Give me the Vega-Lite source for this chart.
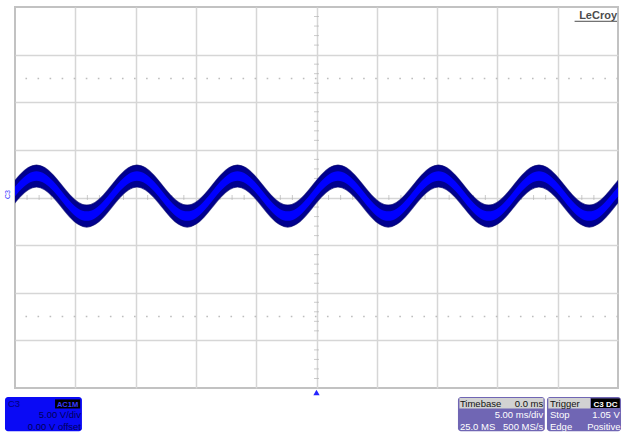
{
  "$schema": "https://vega.github.io/schema/vega-lite/v6.json",
  "width": 603,
  "height": 381,
  "autosize": "none",
  "padding": {"left": 15, "top": 7, "right": 4, "bottom": 45},
  "background": "white",
  "config": {
    "view": {"stroke": "#c2c2c2", "strokeWidth": 2},
    "axis": {"gridColor": "#d6d6d6", "gridWidth": 1.5, "gridOpacity": 1},
    "font": "Liberation Sans",
    "text": {"fontSize": 9.5, "baseline": "alphabetic"}
  },
  "datasets": {
    "wave": [
      {"t": -25.303, "lo": -1.00, "hi": 1.30, "ilo": -0.35, "ihi": 0.65},
      {"t": -24.609, "lo": 0.05, "hi": 2.35, "ilo": 0.70, "ihi": 1.70},
      {"t": -23.914, "lo": 0.82, "hi": 3.12, "ilo": 1.47, "ihi": 2.47},
      {"t": -23.22, "lo": 1.10, "hi": 3.40, "ilo": 1.75, "ihi": 2.75},
      {"t": -22.526, "lo": 0.82, "hi": 3.12, "ilo": 1.47, "ihi": 2.47},
      {"t": -21.831, "lo": 0.05, "hi": 2.35, "ilo": 0.70, "ihi": 1.70},
      {"t": -21.137, "lo": -1.00, "hi": 1.30, "ilo": -0.35, "ihi": 0.65},
      {"t": -20.442, "lo": -2.05, "hi": 0.25, "ilo": -1.40, "ihi": -0.40},
      {"t": -19.748, "lo": -2.82, "hi": -0.52, "ilo": -2.17, "ihi": -1.17},
      {"t": -19.053, "lo": -3.10, "hi": -0.80, "ilo": -2.45, "ihi": -1.45},
      {"t": -18.359, "lo": -2.82, "hi": -0.52, "ilo": -2.17, "ihi": -1.17},
      {"t": -17.664, "lo": -2.05, "hi": 0.25, "ilo": -1.40, "ihi": -0.40},
      {"t": -16.97, "lo": -1.00, "hi": 1.30, "ilo": -0.35, "ihi": 0.65},
      {"t": -16.276, "lo": 0.05, "hi": 2.35, "ilo": 0.70, "ihi": 1.70},
      {"t": -15.581, "lo": 0.82, "hi": 3.12, "ilo": 1.47, "ihi": 2.47},
      {"t": -14.887, "lo": 1.10, "hi": 3.40, "ilo": 1.75, "ihi": 2.75},
      {"t": -14.192, "lo": 0.82, "hi": 3.12, "ilo": 1.47, "ihi": 2.47},
      {"t": -13.498, "lo": 0.05, "hi": 2.35, "ilo": 0.70, "ihi": 1.70},
      {"t": -12.803, "lo": -1.00, "hi": 1.30, "ilo": -0.35, "ihi": 0.65},
      {"t": -12.109, "lo": -2.05, "hi": 0.25, "ilo": -1.40, "ihi": -0.40},
      {"t": -11.414, "lo": -2.82, "hi": -0.52, "ilo": -2.17, "ihi": -1.17},
      {"t": -10.72, "lo": -3.10, "hi": -0.80, "ilo": -2.45, "ihi": -1.45},
      {"t": -10.026, "lo": -2.82, "hi": -0.52, "ilo": -2.17, "ihi": -1.17},
      {"t": -9.331, "lo": -2.05, "hi": 0.25, "ilo": -1.40, "ihi": -0.40},
      {"t": -8.637, "lo": -1.00, "hi": 1.30, "ilo": -0.35, "ihi": 0.65},
      {"t": -7.942, "lo": 0.05, "hi": 2.35, "ilo": 0.70, "ihi": 1.70},
      {"t": -7.248, "lo": 0.82, "hi": 3.12, "ilo": 1.47, "ihi": 2.47},
      {"t": -6.553, "lo": 1.10, "hi": 3.40, "ilo": 1.75, "ihi": 2.75},
      {"t": -5.859, "lo": 0.82, "hi": 3.12, "ilo": 1.47, "ihi": 2.47},
      {"t": -5.164, "lo": 0.05, "hi": 2.35, "ilo": 0.70, "ihi": 1.70},
      {"t": -4.47, "lo": -1.00, "hi": 1.30, "ilo": -0.35, "ihi": 0.65},
      {"t": -3.776, "lo": -2.05, "hi": 0.25, "ilo": -1.40, "ihi": -0.40},
      {"t": -3.081, "lo": -2.82, "hi": -0.52, "ilo": -2.17, "ihi": -1.17},
      {"t": -2.387, "lo": -3.10, "hi": -0.80, "ilo": -2.45, "ihi": -1.45},
      {"t": -1.692, "lo": -2.82, "hi": -0.52, "ilo": -2.17, "ihi": -1.17},
      {"t": -0.998, "lo": -2.05, "hi": 0.25, "ilo": -1.40, "ihi": -0.40},
      {"t": -0.303, "lo": -1.00, "hi": 1.30, "ilo": -0.35, "ihi": 0.65},
      {"t": 0.391, "lo": 0.05, "hi": 2.35, "ilo": 0.70, "ihi": 1.70},
      {"t": 1.086, "lo": 0.82, "hi": 3.12, "ilo": 1.47, "ihi": 2.47},
      {"t": 1.78, "lo": 1.10, "hi": 3.40, "ilo": 1.75, "ihi": 2.75},
      {"t": 2.474, "lo": 0.82, "hi": 3.12, "ilo": 1.47, "ihi": 2.47},
      {"t": 3.169, "lo": 0.05, "hi": 2.35, "ilo": 0.70, "ihi": 1.70},
      {"t": 3.863, "lo": -1.00, "hi": 1.30, "ilo": -0.35, "ihi": 0.65},
      {"t": 4.558, "lo": -2.05, "hi": 0.25, "ilo": -1.40, "ihi": -0.40},
      {"t": 5.252, "lo": -2.82, "hi": -0.52, "ilo": -2.17, "ihi": -1.17},
      {"t": 5.947, "lo": -3.10, "hi": -0.80, "ilo": -2.45, "ihi": -1.45},
      {"t": 6.641, "lo": -2.82, "hi": -0.52, "ilo": -2.17, "ihi": -1.17},
      {"t": 7.336, "lo": -2.05, "hi": 0.25, "ilo": -1.40, "ihi": -0.40},
      {"t": 8.03, "lo": -1.00, "hi": 1.30, "ilo": -0.35, "ihi": 0.65},
      {"t": 8.724, "lo": 0.05, "hi": 2.35, "ilo": 0.70, "ihi": 1.70},
      {"t": 9.419, "lo": 0.82, "hi": 3.12, "ilo": 1.47, "ihi": 2.47},
      {"t": 10.113, "lo": 1.10, "hi": 3.40, "ilo": 1.75, "ihi": 2.75},
      {"t": 10.808, "lo": 0.82, "hi": 3.12, "ilo": 1.47, "ihi": 2.47},
      {"t": 11.502, "lo": 0.05, "hi": 2.35, "ilo": 0.70, "ihi": 1.70},
      {"t": 12.197, "lo": -1.00, "hi": 1.30, "ilo": -0.35, "ihi": 0.65},
      {"t": 12.891, "lo": -2.05, "hi": 0.25, "ilo": -1.40, "ihi": -0.40},
      {"t": 13.586, "lo": -2.82, "hi": -0.52, "ilo": -2.17, "ihi": -1.17},
      {"t": 14.28, "lo": -3.10, "hi": -0.80, "ilo": -2.45, "ihi": -1.45},
      {"t": 14.974, "lo": -2.82, "hi": -0.52, "ilo": -2.17, "ihi": -1.17},
      {"t": 15.669, "lo": -2.05, "hi": 0.25, "ilo": -1.40, "ihi": -0.40},
      {"t": 16.363, "lo": -1.00, "hi": 1.30, "ilo": -0.35, "ihi": 0.65},
      {"t": 17.058, "lo": 0.05, "hi": 2.35, "ilo": 0.70, "ihi": 1.70},
      {"t": 17.752, "lo": 0.82, "hi": 3.12, "ilo": 1.47, "ihi": 2.47},
      {"t": 18.447, "lo": 1.10, "hi": 3.40, "ilo": 1.75, "ihi": 2.75},
      {"t": 19.141, "lo": 0.82, "hi": 3.12, "ilo": 1.47, "ihi": 2.47},
      {"t": 19.836, "lo": 0.05, "hi": 2.35, "ilo": 0.70, "ihi": 1.70},
      {"t": 20.53, "lo": -1.00, "hi": 1.30, "ilo": -0.35, "ihi": 0.65},
      {"t": 21.224, "lo": -2.05, "hi": 0.25, "ilo": -1.40, "ihi": -0.40},
      {"t": 21.919, "lo": -2.82, "hi": -0.52, "ilo": -2.17, "ihi": -1.17},
      {"t": 22.613, "lo": -3.10, "hi": -0.80, "ilo": -2.45, "ihi": -1.45},
      {"t": 23.308, "lo": -2.82, "hi": -0.52, "ilo": -2.17, "ihi": -1.17},
      {"t": 24.002, "lo": -2.05, "hi": 0.25, "ilo": -1.40, "ihi": -0.40},
      {"t": 24.697, "lo": -1.00, "hi": 1.30, "ilo": -0.35, "ihi": 0.65},
      {"t": 25.391, "lo": 0.05, "hi": 2.35, "ilo": 0.70, "ihi": 1.70}
    ],
    "minorx": [
      {"m": -24}, {"m": -23}, {"m": -22}, {"m": -21}, {"m": -19}, {"m": -18}, {"m": -17}, {"m": -16},
      {"m": -14}, {"m": -13}, {"m": -12}, {"m": -11}, {"m": -9}, {"m": -8}, {"m": -7}, {"m": -6},
      {"m": -4}, {"m": -3}, {"m": -2}, {"m": -1}, {"m": 1}, {"m": 2}, {"m": 3}, {"m": 4},
      {"m": 6}, {"m": 7}, {"m": 8}, {"m": 9}, {"m": 11}, {"m": 12}, {"m": 13}, {"m": 14},
      {"m": 16}, {"m": 17}, {"m": 18}, {"m": 19}, {"m": 21}, {"m": 22}, {"m": 23}, {"m": 24}
    ],
    "minory": [
      {"m": -19}, {"m": -18}, {"m": -17}, {"m": -16}, {"m": -14}, {"m": -13}, {"m": -12}, {"m": -11},
      {"m": -9}, {"m": -8}, {"m": -7}, {"m": -6}, {"m": -4}, {"m": -3}, {"m": -2}, {"m": -1},
      {"m": 1}, {"m": 2}, {"m": 3}, {"m": 4}, {"m": 6}, {"m": 7}, {"m": 8}, {"m": 9},
      {"m": 11}, {"m": 12}, {"m": 13}, {"m": 14}, {"m": 16}, {"m": 17}, {"m": 18}, {"m": 19}
    ],
    "levels": [{"lvl": 12.5}, {"lvl": -12.5}]
  },
  "layer": [
    {
      "data": {"name": "levels"},
      "mark": {"type": "rule", "color": "#bdbdbd", "strokeWidth": 1.6, "strokeDash": [1.6, 10.46]},
      "encoding": {
        "y": {
          "field": "lvl", "type": "quantitative",
          "scale": {"domain": [-20, 20], "nice": false, "zero": false},
          "axis": {"values": [-15, -10, -5, 0, 5, 10, 15], "grid": true, "labels": false, "ticks": false, "domain": false, "title": null}
        }
      }
    },
    {
      "data": {"name": "minorx"},
      "mark": {"type": "tick", "orient": "vertical", "size": 5, "thickness": 1, "color": "#b5b5b5"},
      "encoding": {
        "x": {
          "field": "m", "type": "quantitative",
          "scale": {"domain": [-25, 25], "nice": false, "zero": false},
          "axis": {"values": [-20, -15, -10, -5, 0, 5, 10, 15, 20], "grid": true, "labels": false, "ticks": false, "domain": false, "title": null}
        },
        "y": {"datum": 0}
      }
    },
    {
      "data": {"name": "minory"},
      "mark": {"type": "tick", "orient": "horizontal", "size": 5, "thickness": 1, "color": "#b5b5b5"},
      "encoding": {
        "y": {"field": "m", "type": "quantitative"},
        "x": {"datum": 0}
      }
    },
    {
      "data": {"name": "wave"},
      "mark": {"type": "area", "interpolate": "natural", "clip": true, "color": "#00008e", "stroke": "#000070", "strokeWidth": 1.2, "strokeOpacity": 0.7},
      "encoding": {
        "x": {"field": "t", "type": "quantitative"},
        "y": {"field": "lo", "type": "quantitative"},
        "y2": {"field": "hi"}
      }
    },
    {
      "data": {"name": "wave"},
      "mark": {"type": "area", "interpolate": "natural", "clip": true, "color": "#0000ff"},
      "encoding": {
        "x": {"field": "t", "type": "quantitative"},
        "y": {"field": "ilo", "type": "quantitative"},
        "y2": {"field": "ihi"}
      }
    },
    {
      "data": {"values": [{"label": "LeCroy"}]},
      "mark": {"type": "text", "align": "right", "fontSize": 11, "fontWeight": "bold", "color": "#4d4d4d"},
      "encoding": {"x": {"datum": 24.92}, "y": {"datum": 18.74}, "text": {"field": "label"}}
    },
    {
      "data": {"values": [{}]},
      "mark": {"type": "rule", "color": "#4d4d4d", "strokeWidth": 1},
      "encoding": {"x": {"datum": 21.4}, "x2": {"datum": 24.92}, "y": {"datum": 18.5}}
    },
    {
      "data": {"values": [{"label": "C3"}]},
      "mark": {"type": "text", "align": "center", "baseline": "middle", "fontSize": 7, "angle": 270, "color": "#3030ff"},
      "encoding": {"x": {"datum": -25.62}, "y": {"datum": 0.3}, "text": {"field": "label"}}
    },
    {
      "data": {"values": [{}]},
      "mark": {"type": "point", "shape": "triangle-up", "filled": true, "size": 40, "color": "#2525ff", "opacity": 1},
      "encoding": {"x": {"datum": 0}, "y": {"datum": -20.47}}
    },
    {
      "data": {"values": [{}]},
      "mark": {"type": "rect", "color": "#0a0af5", "cornerRadius": 3},
      "encoding": {"x": {"datum": -25.83}, "x2": {"datum": -19.45}, "y": {"datum": -20.95}, "y2": {"datum": -24.55}}
    },
    {
      "data": {"values": [{}]},
      "mark": {"type": "rect", "color": "#000000"},
      "encoding": {"x": {"datum": -21.68}, "x2": {"datum": -19.6}, "y": {"datum": -21.2}, "y2": {"datum": -22.15}}
    },
    {
      "data": {"values": [{"label": "AC1M"}]},
      "mark": {"type": "text", "align": "center", "fontSize": 7.5, "fontWeight": "bold", "color": "#3a3aff"},
      "encoding": {"x": {"datum": -20.64}, "y": {"datum": -22.0}, "text": {"field": "label"}}
    },
    {
      "data": {"values": [{"label": "C3"}]},
      "mark": {"type": "text", "align": "left", "color": "#00007a"},
      "encoding": {"x": {"datum": -25.58}, "y": {"datum": -21.99}, "text": {"field": "label"}}
    },
    {
      "data": {"values": [{"label": "5.00 V/div"}]},
      "mark": {"type": "text", "align": "right", "color": "#00005a"},
      "encoding": {"x": {"datum": -19.53}, "y": {"datum": -23.2}, "text": {"field": "label"}}
    },
    {
      "data": {"values": [{"label": "0.00 V offset"}]},
      "mark": {"type": "text", "align": "right", "color": "#00005a"},
      "encoding": {"x": {"datum": -19.53}, "y": {"datum": -24.41}, "text": {"field": "label"}}
    },
    {
      "data": {"values": [{}]},
      "mark": {"type": "rect", "color": "#7066b4", "cornerRadius": 3},
      "encoding": {"x": {"datum": 11.73}, "x2": {"datum": 18.93}, "y": {"datum": -20.95}, "y2": {"datum": -24.55}}
    },
    {
      "data": {"values": [{}]},
      "mark": {"type": "rect", "color": "#7066b4", "cornerRadius": 3},
      "encoding": {"x": {"datum": 19.11}, "x2": {"datum": 25.25}, "y": {"datum": -20.95}, "y2": {"datum": -24.55}}
    },
    {
      "data": {"values": [{}]},
      "mark": {"type": "rect", "color": "#d2d2d2"},
      "encoding": {"x": {"datum": 11.85}, "x2": {"datum": 18.82}, "y": {"datum": -21.05}, "y2": {"datum": -22.15}}
    },
    {
      "data": {"values": [{}]},
      "mark": {"type": "rect", "color": "#d2d2d2"},
      "encoding": {"x": {"datum": 19.22}, "x2": {"datum": 22.7}, "y": {"datum": -21.05}, "y2": {"datum": -22.15}}
    },
    {
      "data": {"values": [{}]},
      "mark": {"type": "rect", "color": "#000000"},
      "encoding": {"x": {"datum": 22.76}, "x2": {"datum": 25.15}, "y": {"datum": -21.1}, "y2": {"datum": -22.1}}
    },
    {
      "data": {"values": [{"label": "Timebase"}]},
      "mark": {"type": "text", "align": "left", "color": "#111111"},
      "encoding": {"x": {"datum": 11.89}, "y": {"datum": -21.99}, "text": {"field": "label"}}
    },
    {
      "data": {"values": [{"label": "0.0 ms"}]},
      "mark": {"type": "text", "align": "right", "color": "#111111"},
      "encoding": {"x": {"datum": 18.8}, "y": {"datum": -21.99}, "text": {"field": "label"}}
    },
    {
      "data": {"values": [{"label": "5.00 ms/div"}]},
      "mark": {"type": "text", "align": "right", "color": "#ffffff"},
      "encoding": {"x": {"datum": 18.8}, "y": {"datum": -23.2}, "text": {"field": "label"}}
    },
    {
      "data": {"values": [{"label": "25.0 MS"}]},
      "mark": {"type": "text", "align": "left", "color": "#ffffff"},
      "encoding": {"x": {"datum": 11.89}, "y": {"datum": -24.41}, "text": {"field": "label"}}
    },
    {
      "data": {"values": [{"label": "500 MS/s"}]},
      "mark": {"type": "text", "align": "right", "color": "#ffffff"},
      "encoding": {"x": {"datum": 18.8}, "y": {"datum": -24.41}, "text": {"field": "label"}}
    },
    {
      "data": {"values": [{"label": "Trigger"}]},
      "mark": {"type": "text", "align": "left", "color": "#111111"},
      "encoding": {"x": {"datum": 19.36}, "y": {"datum": -21.99}, "text": {"field": "label"}}
    },
    {
      "data": {"values": [{"label": "C3 DC"}]},
      "mark": {"type": "text", "align": "center", "fontSize": 8, "fontWeight": "bold", "color": "#ffffff"},
      "encoding": {"x": {"datum": 23.96}, "y": {"datum": -21.95}, "text": {"field": "label"}}
    },
    {
      "data": {"values": [{"label": "Stop"}]},
      "mark": {"type": "text", "align": "left", "color": "#ffffff"},
      "encoding": {"x": {"datum": 19.36}, "y": {"datum": -23.2}, "text": {"field": "label"}}
    },
    {
      "data": {"values": [{"label": "1.05 V"}]},
      "mark": {"type": "text", "align": "right", "color": "#ffffff"},
      "encoding": {"x": {"datum": 25.15}, "y": {"datum": -23.2}, "text": {"field": "label"}}
    },
    {
      "data": {"values": [{"label": "Edge"}]},
      "mark": {"type": "text", "align": "left", "color": "#ffffff"},
      "encoding": {"x": {"datum": 19.36}, "y": {"datum": -24.41}, "text": {"field": "label"}}
    },
    {
      "data": {"values": [{"label": "Positive"}]},
      "mark": {"type": "text", "align": "right", "color": "#ffffff"},
      "encoding": {"x": {"datum": 25.2}, "y": {"datum": -24.41}, "text": {"field": "label"}}
    }
  ]
}
